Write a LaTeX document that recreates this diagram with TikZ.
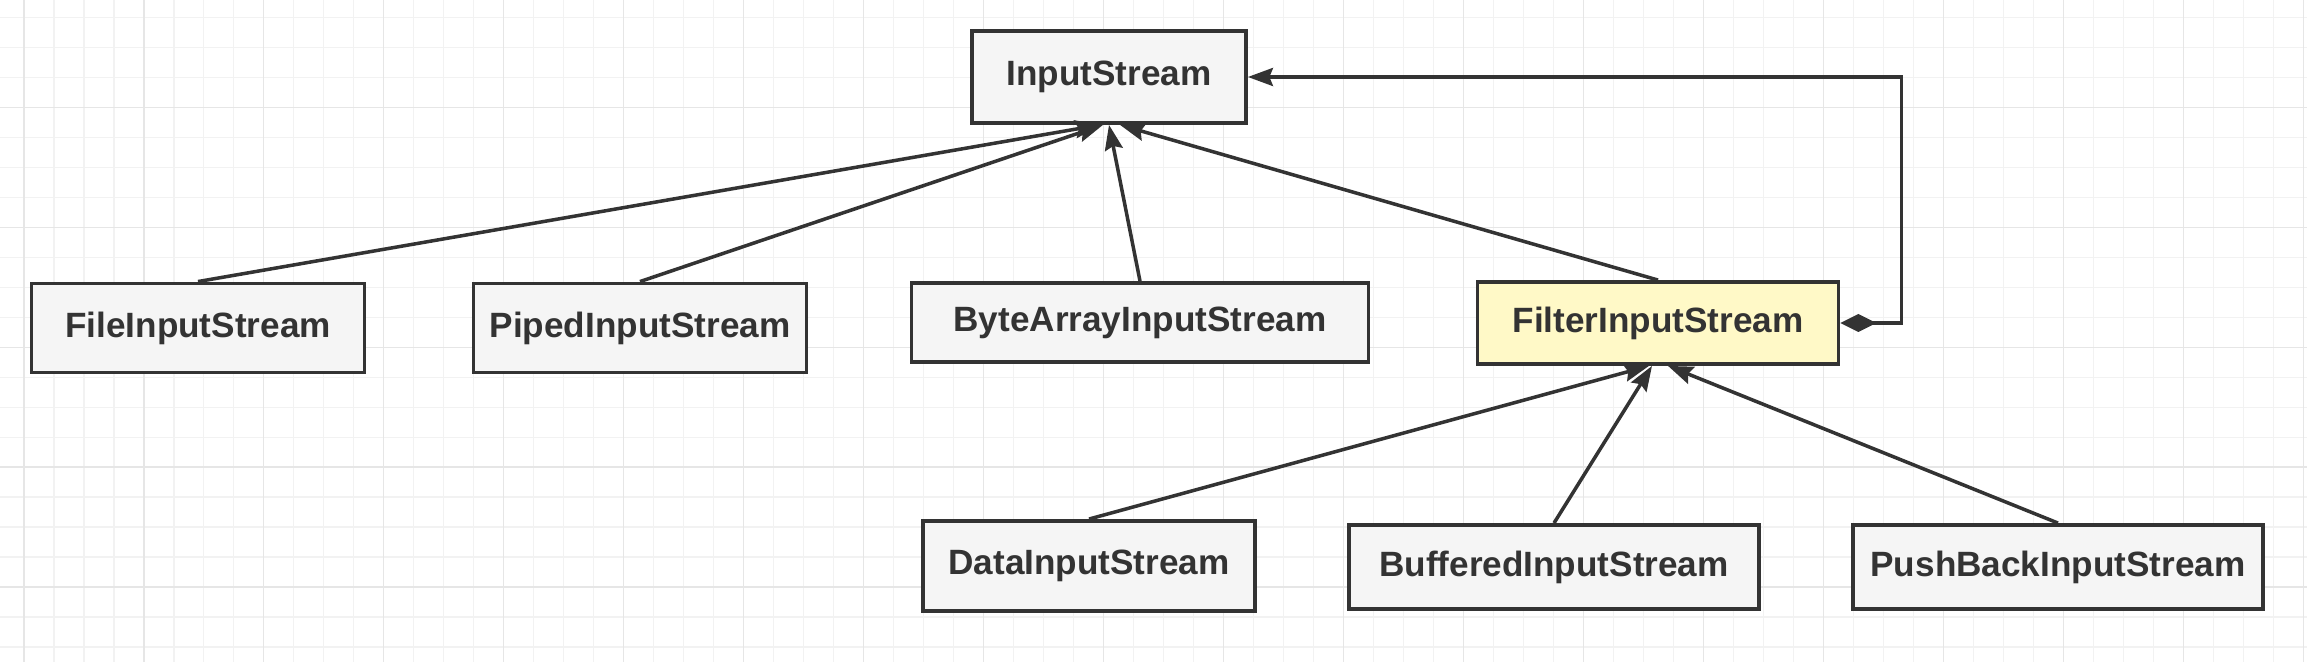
\documentclass[tikz,border=0pt]{standalone}
\usepackage{fontspec}
\setmainfont{Liberation Sans}
\usepackage{tikz}
\usepackage{xcolor}
\usetikzlibrary{arrows.meta}
\definecolor{boxgray}{RGB}{245,245,245}
\definecolor{boxyellow}{RGB}{255,249,199}
\definecolor{linegray}{RGB}{51,51,51}
\definecolor{gridminor}{RGB}{242,242,242}
\definecolor{gridmajor}{RGB}{230,230,230}

\begin{document}
\begin{tikzpicture}[
    x=0.02cm, y=0.02cm,
    cls/.style={rectangle, draw=linegray, fill=boxgray, line width=2.2pt, inner sep=0pt, font=\bfseries\fontsize{20}{24}\selectfont, text=linegray},
    filtercls/.style={cls, fill=boxyellow},
    arrow/.style={-{Stealth[length=0.5cm, width=0.36cm, inset=0.07cm]}, line width=2pt, linegray},
    aggarrow/.style={{Diamond[length=0.72cm, width=0.36cm]}-{Stealth[length=0.5cm, width=0.36cm, inset=0.07cm]}, line width=2pt, linegray}
]

% Background grid
\useasboundingbox (0,0) rectangle (2307,662);
\fill[white] (0,0) rectangle (2307,662);
\begin{scope}[shift={(24,15)}]
  \draw[gridminor, line width=0.6pt, step=0.6cm] (-24,-15) grid (2283,647);
\end{scope}
\begin{scope}[shift={(24,75)}]
  \draw[gridmajor, line width=0.6pt, step=2.4cm] (-24,-75) grid (2283,587);
\end{scope}

% Base class
\node[cls, minimum width=5.48cm, minimum height=1.84cm] (input) at (1109,585) {InputStream};

% Direct subclasses
\node[cls, minimum width=6.66cm, minimum height=1.78cm] (file) at (198,334) {FileInputStream};
\node[cls, minimum width=6.66cm, minimum height=1.78cm] (piped) at (640,334) {PipedInputStream};
\node[cls, minimum width=9.14cm, minimum height=1.58cm] (bytearray) at (1140,339.5) {ByteArrayInputStream};
\node[filtercls, minimum width=7.22cm, minimum height=1.64cm] (filter) at (1658,339) {FilterInputStream};

% Decorators
\node[cls, minimum width=6.64cm, minimum height=1.8cm] (data) at (1089,96) {DataInputStream};
\node[cls, minimum width=8.2cm, minimum height=1.68cm] (buffered) at (1554,95) {BufferedInputStream};
\node[cls, minimum width=8.2cm, minimum height=1.68cm] (pushback) at (2058,95) {PushBackInputStream};

% Inheritance
\draw[arrow] (file.north) -- ([xshift=-0.18cm]input.south);
\draw[arrow] (piped.north) -- ([xshift=-0.12cm]input.south);
\draw[arrow] (bytearray.north) -- (input.south);
\draw[arrow] (filter.north) -- ([xshift=0.22cm]input.south);

\draw[arrow] (data.north) -- ([xshift=-0.18cm]filter.south);
\draw[arrow] (buffered.north) -- ([xshift=-0.12cm]filter.south);
\draw[arrow] (pushback.north) -- ([xshift=0.2cm]filter.south);

% Aggregation
\draw[aggarrow] (filter.east) -- ++(61,0) |- (input.east);

\end{tikzpicture}
\end{document}
